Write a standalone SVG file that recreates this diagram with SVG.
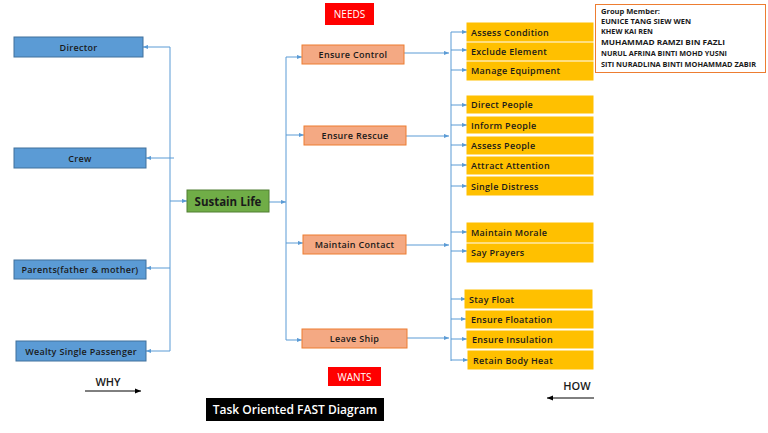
<svg xmlns="http://www.w3.org/2000/svg" width="768" height="433" viewBox="0 0 768 433">
<defs>
<marker id="ah" viewBox="0 0 6 6" refX="6" refY="3" markerWidth="5" markerHeight="5" orient="auto" markerUnits="userSpaceOnUse"><path d="M0,0.5 L6,3 L0,5.5 z" fill="#5B9BD5"/></marker>
<marker id="bh" viewBox="0 0 6 6" refX="6" refY="3" markerWidth="6" markerHeight="6" orient="auto" markerUnits="userSpaceOnUse"><path d="M0,0.5 L6,3 L0,5.5 z" fill="#000"/></marker>
</defs>
<style>
text{font-family:"Open Sans","Liberation Sans",sans-serif;}
.why{fill:#5B9BD5;stroke:#41719C;stroke-width:1}
.fn{fill:#F4A983;stroke:#ED7D31;stroke-width:1}
.how{fill:#FFC000;stroke:#FFC000;stroke-width:1}
.t{font-size:9px;font-weight:600;fill:#1a1a1a;letter-spacing:0.3px}
.c{stroke:#5B9BD5;stroke-width:1;fill:none}
.a{marker-end:url(#ah)}
</style>
<rect width="768" height="433" fill="#fff"/>
<g id="connectors">
<path class="c" d="M170,47 V351"/>
<path class="c a" d="M170,47 H143"/>
<path class="c a" d="M174,158 H146"/>
<path class="c a" d="M170,268 H146"/>
<path class="c a" d="M170,351 H146"/>
<path class="c a" d="M170,201 H187"/>
<path class="c a" d="M269,202 H286"/>
<path class="c" d="M286,57 V340"/>
<path class="c a" d="M286,57 H302"/>
<path class="c a" d="M286,135 H304"/>
<path class="c a" d="M286,243 H303"/>
<path class="c a" d="M286,340 H302"/>
<path class="c a" d="M404,53 H449"/>
<path class="c a" d="M406,136 H449"/>
<path class="c a" d="M406,245 H449"/>
<path class="c a" d="M407,338 H449"/>
<path class="c" d="M451,32 V361"/>
<path class="c a" d="M451,32 H467"/>
<path class="c a" d="M451,50 H467"/>
<path class="c a" d="M451,70 H467"/>
<path class="c a" d="M451,105 H467"/>
<path class="c a" d="M451,125 H467"/>
<path class="c a" d="M451,145 H467"/>
<path class="c a" d="M451,165 H467"/>
<path class="c a" d="M451,186 H467"/>
<path class="c a" d="M451,232 H467"/>
<path class="c a" d="M451,251 H467"/>
<path class="c a" d="M451,299 H466"/>
<path class="c a" d="M451,319 H466"/>
<path class="c a" d="M451,339 H467"/>
<path class="c a" d="M451,360 H468"/>
</g>
<g id="director"><rect class="why" x="14" y="37" width="129" height="20"/><text class="t" x="78.5" y="50.5" text-anchor="middle">Director</text></g>
<g id="crew"><rect class="why" x="14" y="148" width="132" height="20"/><text class="t" x="80" y="161.5" text-anchor="middle">Crew</text></g>
<g id="parents"><rect class="why" x="14" y="260" width="132" height="19"/><text class="t" x="80" y="272.5" text-anchor="middle" letter-spacing="0">Parents(father &amp; mother)</text></g>
<g id="wealty"><rect class="why" x="16" y="341" width="130" height="20"/><text class="t" x="81" y="354.5" text-anchor="middle" letter-spacing="0">Wealty Single Passenger</text></g>
<g id="sustain"><rect x="187" y="190" width="82" height="22" fill="#70AD47" stroke="#507E32"/><text x="228" y="205.5" text-anchor="middle" font-size="11.5" font-weight="700" fill="#1a1a1a">Sustain Life</text></g>
<g id="needs"><rect x="325" y="3" width="49" height="22" fill="#FF0000"/><text x="349.5" y="18" text-anchor="middle" font-size="10" fill="#fff">NEEDS</text></g>
<g id="wants"><rect x="328" y="367" width="53" height="19" fill="#FF0000"/><text x="354.5" y="380.5" text-anchor="middle" font-size="10" fill="#fff">WANTS</text></g>
<g id="ensure-control"><rect class="fn" x="302" y="45" width="102" height="19"/><text class="t" x="353" y="57.5" text-anchor="middle">Ensure Control</text></g>
<g id="ensure-rescue"><rect class="fn" x="304" y="126" width="102" height="19"/><text class="t" x="355" y="138.5" text-anchor="middle">Ensure Rescue</text></g>
<g id="maintain-contact"><rect class="fn" x="303" y="235" width="103" height="19"/><text class="t" x="354.5" y="247.5" text-anchor="middle">Maintain Contact</text></g>
<g id="leave-ship"><rect class="fn" x="302" y="329" width="105" height="19"/><text class="t" x="354.5" y="341.5" text-anchor="middle">Leave Ship</text></g>
<g id="assess-condition"><rect class="how" x="467" y="23" width="126" height="18"/><text class="t" x="471" y="35.5">Assess Condition</text></g>
<g id="exclude-element"><rect class="how" x="467" y="43" width="126" height="17"/><text class="t" x="471" y="54.5">Exclude Element</text></g>
<g id="manage-equipment"><rect class="how" x="467" y="62" width="126" height="18"/><text class="t" x="471" y="74">Manage Equipment</text></g>
<g id="direct-people"><rect class="how" x="467" y="96" width="126" height="17"/><text class="t" x="471" y="108">Direct People</text></g>
<g id="inform-people"><rect class="how" x="467" y="117" width="126" height="16"/><text class="t" x="471" y="128.5">Inform People</text></g>
<g id="assess-people"><rect class="how" x="467" y="137" width="126" height="17"/><text class="t" x="471" y="149">Assess People</text></g>
<g id="attract-attention"><rect class="how" x="467" y="157" width="126" height="17"/><text class="t" x="471" y="169">Attract Attention</text></g>
<g id="single-distress"><rect class="how" x="467" y="177" width="126" height="18"/><text class="t" x="471" y="189.5">Single Distress</text></g>
<g id="maintain-morale"><rect class="how" x="467" y="223" width="126" height="19"/><text class="t" x="471" y="235.5">Maintain Morale</text></g>
<g id="say-prayers"><rect class="how" x="467" y="244" width="126" height="18"/><text class="t" x="471" y="256">Say Prayers</text></g>
<g id="stay-float"><rect class="how" x="465" y="290" width="127" height="18"/><text class="t" x="469" y="302.5">Stay Float</text></g>
<g id="ensure-floatation"><rect class="how" x="466" y="311" width="127" height="17"/><text class="t" x="471" y="322.5">Ensure Floatation</text></g>
<g id="ensure-insulation"><rect class="how" x="467" y="331" width="126" height="17"/><text class="t" x="472" y="343">Ensure Insulation</text></g>
<g id="retain-body-heat"><rect class="how" x="468" y="351" width="125" height="18"/><text class="t" x="473" y="364">Retain Body Heat</text></g>
<g id="group-member">
<rect x="595.5" y="4.5" width="170" height="68" fill="#fff" stroke="#ED7D31" stroke-width="1"/>
<g font-size="7" font-weight="700" fill="#1a1a1a">
<text x="601" y="14" textLength="59" lengthAdjust="spacingAndGlyphs">Group Member:</text>
<text x="601" y="24" textLength="90" lengthAdjust="spacingAndGlyphs">EUNICE TANG SIEW WEN</text>
<text x="601" y="34" textLength="52" lengthAdjust="spacingAndGlyphs">KHEW KAI REN</text>
<text x="601" y="45" textLength="124" lengthAdjust="spacingAndGlyphs">MUHAMMAD RAMZI BIN FAZLI</text>
<text x="601" y="56" textLength="126" lengthAdjust="spacingAndGlyphs">NURUL AFRINA BINTI MOHD YUSNI</text>
<text x="601" y="67" textLength="155" lengthAdjust="spacingAndGlyphs">SITI NURADLINA BINTI MOHAMMAD ZABIR</text>
</g>
</g>
<g id="why">
<text x="108" y="386" text-anchor="middle" font-size="11" font-weight="600" fill="#1a1a1a">WHY</text>
<path d="M85,391 H141" stroke="#000" stroke-width="1" marker-end="url(#bh)"/>
</g>
<g id="how">
<text x="577" y="390" text-anchor="middle" font-size="11" font-weight="600" fill="#1a1a1a">HOW</text>
<path d="M594,398 H547" stroke="#000" stroke-width="1" marker-end="url(#bh)"/>
</g>
<g id="title"><rect x="206" y="398" width="178" height="23" fill="#000"/><text x="295" y="414" text-anchor="middle" font-size="12" font-weight="600" fill="#fff">Task Oriented FAST Diagram</text></g>
</svg>
